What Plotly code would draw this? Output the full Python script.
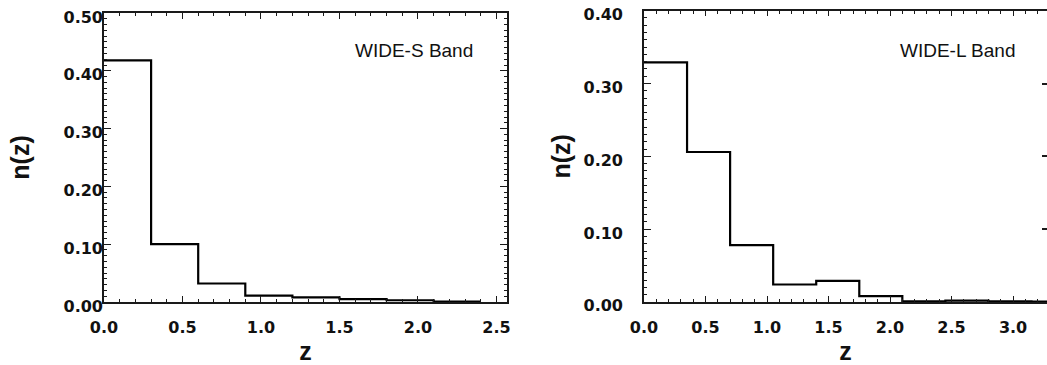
import plotly.graph_objects as go

# WIDE-S band histogram
s_edges = [0.0, 0.3, 0.6, 0.9, 1.2, 1.5, 1.8, 2.1, 2.4]
s_vals = [0.418, 0.100, 0.032, 0.011, 0.008, 0.005, 0.003, 0.0005]
# WIDE-L band histogram
l_edges = [0.0, 0.35, 0.70, 1.05, 1.40, 1.75, 2.10, 2.45, 2.80, 3.15, 3.50]
l_vals = [0.329, 0.206, 0.078, 0.024, 0.029, 0.008, 0.001, 0.002, 0.001, 0.0005]

s_label = "WIDE-S Band"
l_label = "WIDE-L Band"

W, H = 1047, 365


def px(x):
    return x / W


def py(y):
    return 1 - y / H


AX = "#1a1a1a"
TICKFONT = dict(family="DejaVu Sans", size=16, color="#111", weight="bold")
TITLEFONT = dict(family="Liberation Sans", size=25, color="#111", weight="bold")

fig = go.Figure()
# empty helper traces first so the data lines are drawn on top
fig.add_trace(go.Scatter(x=[], y=[], xaxis="x", yaxis="y4", showlegend=False))
fig.add_trace(go.Scatter(x=[], y=[], xaxis="x2", yaxis="y5", showlegend=False))
fig.add_trace(go.Scatter(x=[], y=[], xaxis="x2", yaxis="y3", showlegend=False))
fig.add_trace(go.Scatter(x=s_edges, y=s_vals + [s_vals[-1]], mode="lines",
                         line=dict(shape="hv", color="black", width=2.2),
                         xaxis="x", yaxis="y", showlegend=False))
fig.add_trace(go.Scatter(x=l_edges, y=l_vals + [l_vals[-1]], mode="lines",
                         line=dict(shape="hv", color="black", width=2.2),
                         xaxis="x2", yaxis="y2", showlegend=False))

common = dict(showline=True, linecolor=AX, linewidth=1.5, ticks="inside",
              tickcolor=AX, tickwidth=1.2, showgrid=False, zeroline=False,
              tickfont=TICKFONT, automargin=False, ticklabeloverflow="allow")
labels_only = dict(showline=False, ticks="", showgrid=False, zeroline=False,
                   tickfont=TICKFONT, automargin=False, ticklabeloverflow="allow",
                   tickformat=".2f", dtick=0.1)

fig.update_layout(
    width=W, height=H, margin=dict(l=0, r=0, t=0, b=0, autoexpand=False),
    paper_bgcolor="white", plot_bgcolor="rgba(0,0,0,0)",
    xaxis=dict(domain=[px(104), px(507)], range=[0, 2.567], dtick=0.5, tick0=0,
               tickformat=".1f", ticklen=6, mirror="ticks", anchor="y",
               ticklabelstandoff=10,
               minor=dict(dtick=0.1, ticklen=3.5, ticks="inside", tickcolor=AX),
               title=dict(text="z", font=TITLEFONT, standoff=14), **common),
    yaxis=dict(domain=[py(302), py(13)], range=[0, 0.5], dtick=0.1,
               ticklen=7, mirror="ticks", anchor="x", showticklabels=False,
               minor=dict(dtick=0.01, ticklen=3.5, ticks="inside", tickcolor=AX),
               title=dict(text="n(z)", font=TITLEFONT, standoff=66), **common),
    yaxis4=dict(domain=[py(306), py(17)], range=[0, 0.5], anchor="x",
                ticklabelstandoff=0, **labels_only),
    xaxis2=dict(domain=[px(644), 1.0], range=[0, 3.276], dtick=0.5, tick0=0,
                tickformat=".1f", ticklen=6, mirror="ticks", anchor="y2",
                ticklabelstandoff=10,
                minor=dict(dtick=0.1, ticklen=3.5, ticks="inside", tickcolor=AX),
                title=dict(text="z", font=TITLEFONT, standoff=14), **common),
    yaxis2=dict(domain=[py(302), py(10.7)], range=[0, 0.4], dtick=0.1,
                ticklen=7, mirror=False, anchor="x2", showticklabels=False,
                minor=dict(dtick=0.01, ticklen=3.5, ticks="inside", tickcolor=AX),
                title=dict(text="n(z)", font=TITLEFONT, standoff=64), **common),
    yaxis5=dict(domain=[py(305.7), py(14.7)], range=[0, 0.4], anchor="x2",
                ticklabelstandoff=20, **labels_only),
    yaxis3=dict(overlaying="y2", side="right", anchor="free", position=1.0,
                range=[0, 0.4], tickvals=[0.1, 0.2, 0.3], ticks="inside",
                ticklen=5, tickwidth=1.5, tickcolor=AX, showticklabels=False,
                showline=False, showgrid=False, zeroline=False, automargin=False),
    annotations=[
        dict(text=s_label, x=px(414), y=py(51), xref="paper", yref="paper",
             xanchor="center", yanchor="middle", showarrow=False,
             font=dict(family="Liberation Sans", size=19, color="#111")),
        dict(text=l_label, x=px(957), y=py(50), xref="paper", yref="paper",
             xanchor="center", yanchor="middle", showarrow=False,
             font=dict(family="Liberation Sans", size=19, color="#111")),
    ],
)

fig.write_html("out.html", config={"displayModeBar": False},
               post_script="document.body.style.margin='0';")
